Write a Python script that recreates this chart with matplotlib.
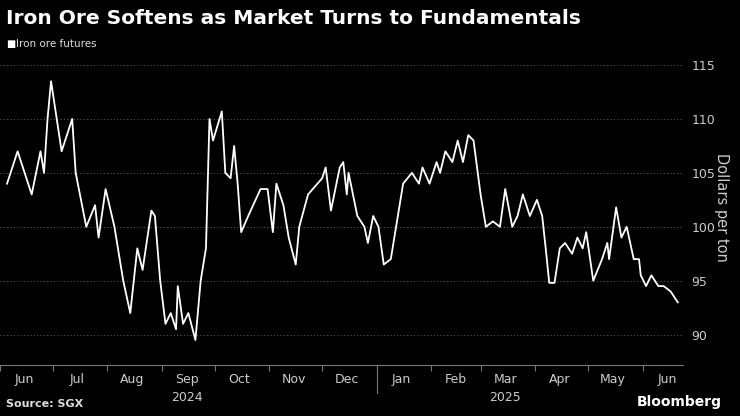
import matplotlib
matplotlib.use("Agg")
import matplotlib.pyplot as plt
import matplotlib.dates as mdates
import pandas as pd

start = pd.Timestamp("2024-06-05")
day_offsets = [0,6,14,19,21,23,25,31,37,39,45,50,52,56,61,63,66,70,74,77,82,84,87,90,93,96,97,100,103,107,110,113,115,117,122,124,127,129,131,133,137,144,148,151,153,157,160,164,166,171,179,181,184,189,191,193,194,199,203,205,208,211,214,218,221,225,230,234,236,240,244,246,249,253,256,259,262,265,269,272,276,280,283,287,290,293,297,301,304,306,308,311,314,317,321,324,327,329,333,338,341,342,346,349,352,356,359,360,363,366,370,373,377,381]
prices = [104,107,103,107,105,110,113.5,107,110,105,100,102,99,103.5,100,98,95,92,98,96,101.5,101,95,91,92,90.5,94.5,91,92,89.5,95,98,110,108,110.7,105,104.5,107.5,104,99.5,101,103.5,103.5,99.5,104,102,99,96.5,100,103,104.5,105.5,101.5,105.5,106,103,105,101,100,98.5,101,100,96.5,97,100,104,105,104,105.5,104,106,105,107,106,108,106,108.5,108,103,100,100.5,100,103.5,100,101,103,101,102.5,101,98,94.8,94.8,98,98.5,97.5,99,98,99.5,95,97,98.5,97,101.8,99,100,97,97,95.5,94.5,95.5,94.5,94.5,94,93]
months = ["Jun","Jul","Aug","Sep","Oct","Nov","Dec","Jan","Feb","Mar","Apr","May","Jun"]
yticks = [90,95,100,105,110,115]

dates = [start + pd.Timedelta(days=d) for d in day_offsets]
fig = plt.figure(figsize=(7.4,4.16), dpi=100, facecolor="black")
ax = fig.add_axes([0, 0.123, 0.923, 0.757], facecolor="black")
ax.plot(dates, prices, color="white", lw=1.3)
ax.set_xlim(start, start + pd.Timedelta(days=384))
ax.set_ylim(87.2, 116.4)
ax.yaxis.tick_right()
ax.set_yticks(yticks)
ax.tick_params(axis="y", colors="#cccccc", labelsize=9, length=0, pad=6)
ax.grid(axis="y", color="#555555", ls=(0,(1,2)), lw=0.8)
for s in ["top","left","right"]:
    ax.spines[s].set_visible(False)
ax.spines["bottom"].set_color("#777777")
mstarts = pd.date_range("2024-06-01", periods=13, freq="MS")
ax.set_xticks(mstarts)
ax.set_xticklabels([])
ax.tick_params(axis="x", colors="#777777", length=4)
ax.set_xticks(mstarts + pd.Timedelta(days=14), minor=True)
ax.set_xticklabels(months, minor=True)
ax.tick_params(axis="x", which="minor", length=0, labelcolor="#cccccc", labelsize=9, pad=6)
for i, yr in [(3, "2024"), (9, "2025")]:
    ax.annotate(yr, xy=(mdates.date2num(mstarts[i]+pd.Timedelta(days=14)), 0), xycoords=("data","axes fraction"),
                xytext=(0,-19), textcoords="offset points", color="#cccccc", fontsize=9, ha="center", va="top")
ax.plot([mdates.date2num(mstarts[7])]*2, [0,-0.09], transform=ax.get_xaxis_transform(), color="#777777", lw=0.8, clip_on=False)
ax.text(1.057, 0.5, "Dollars per ton", transform=ax.transAxes, rotation=270, color="#cccccc", fontsize=10.5, ha="center", va="center")
fig.text(0.008, 0.955, "Iron Ore Softens as Market Turns to Fundamentals", color="white", fontsize=14.5, fontweight="bold", va="center")
fig.text(0.008, 0.895, "\u25a0", color="white", fontsize=7, va="center")
fig.text(0.022, 0.895, "Iron ore futures", color="#dddddd", fontsize=7.5, va="center")
fig.text(0.008, 0.018, "Source: SGX", color="#dddddd", fontsize=8, fontweight="bold", va="bottom")
fig.text(0.975, 0.018, "Bloomberg", color="white", fontsize=10, fontweight="bold", va="bottom", ha="right")
fig.savefig("out.png", dpi=100, facecolor="black")
